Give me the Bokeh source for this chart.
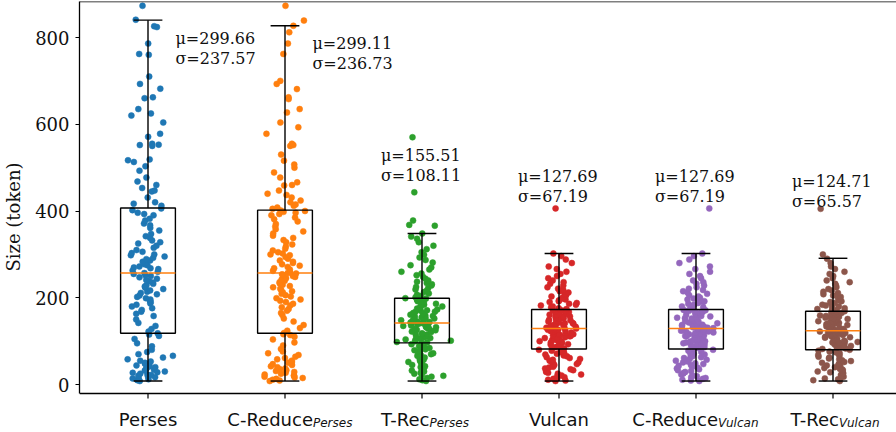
from bokeh.plotting import figure
from bokeh.models import ColumnDataSource, Range1d, FixedTicker, Span
from bokeh.transform import jitter
from bokeh.core.properties import value
from bokeh.embed import file_html
from bokeh.resources import INLINE

# ---------------- data ----------------
label_main = ["Perses", "C-Reduce", "T-Rec", "Vulcan", "C-Reduce", "T-Rec"]
label_sub = ["", "Perses", "Perses", "", "Vulcan", "Vulcan"]

mu_text = ["299.66", "299.11", "155.51", "127.69", "127.69", "124.71"]
sigma_text = ["237.57", "236.73", "108.11", "67.19", "67.19", "65.57"]

q1 = [118, 118, 96, 82, 82, 80]
median = [257, 257, 142, 129, 129, 124]
q3 = [407, 402, 199, 173, 173, 169]
whisker_low = [8, 8, 8, 8, 8, 8]
whisker_high = [840, 827, 348, 302, 302, 291]

y_ticks = [0, 200, 400, 600, 800]

perses = [
    8, 10, 12, 14, 15, 17, 18, 20, 22, 23, 25, 27, 28, 30, 32, 34, 36, 38, 40, 42,
    44, 46, 48, 50, 53, 55, 58, 62, 66, 70, 75, 80, 88, 95, 105, 112, 115,
    118, 122, 128, 135, 142, 150, 158, 163, 168, 172, 176, 180, 184, 187, 190, 193,
    196, 199, 202, 205, 208, 211, 214, 217, 220, 223, 226, 229, 232, 235, 238, 241,
    244, 247, 250, 252, 255, 257,
    260, 263, 266, 268, 270, 272, 275, 277, 280, 283, 286, 289, 292, 295, 298, 300,
    303, 306, 310, 315, 320, 325, 328, 332, 338, 342, 347, 355, 361, 367, 371, 378,
    382, 390, 393, 396, 402, 406,
    412, 417, 420, 431, 445, 447, 453, 460, 468, 477, 493, 503, 513, 517, 519, 550,
    552, 553, 555, 571, 578, 604, 620, 625, 635, 660, 662, 682, 693, 710, 760, 762,
    786, 824, 826, 841, 873,
]

creduce_perses = [
    8, 9, 11, 13, 15, 16, 18, 20, 21, 23, 25, 27, 29, 31, 33, 35, 37, 40, 42, 45,
    47, 50, 52, 55, 58, 61, 64, 68, 72, 76, 82, 90, 97, 104, 110, 114, 116,
    119, 124, 130, 137, 145, 152, 160, 165, 170, 174, 178, 182, 186, 190, 193, 196,
    199, 203, 206, 209, 212, 215, 218, 221, 224, 227, 230, 233, 236, 239, 242, 245,
    248, 250, 252, 254, 256, 257,
    259, 262, 265, 268, 271, 274, 277, 280, 283, 286, 290, 294, 298, 300, 302, 305,
    309, 313, 318, 323, 328, 333, 338, 343, 348, 353, 358, 364, 370, 376, 381, 385,
    390, 393, 396, 398, 400, 401,
    405, 408, 412, 415, 420, 424, 431, 437, 440, 447, 459, 460, 466, 477, 489, 500,
    507, 516, 530, 550, 552, 555, 578, 593, 604, 627, 635, 658, 662, 681, 693, 700,
    762, 786, 812, 827, 839, 873,
]

trec_perses = [
    8, 10, 12, 15, 18, 20, 22, 25, 27, 30, 32, 35, 37, 40, 42, 45, 48, 50, 52, 55,
    57, 60, 62, 64, 66, 68, 70, 72, 75, 77, 79, 81, 84, 86, 88, 91, 93,
    96, 97, 98, 100, 101, 103, 104, 106, 107, 109, 110, 112, 113, 115, 116, 118, 119,
    121, 122, 124, 125, 126, 128, 129, 130, 131, 132, 133, 134, 135, 136, 137, 138,
    139, 140, 141, 141, 142,
    143, 144, 145, 146, 148, 149, 150, 152, 153, 155, 156, 158, 159, 161, 162, 164,
    165, 167, 168, 170, 171, 173, 175, 176, 178, 180, 182, 184, 186, 188, 190, 192,
    194, 195, 196, 197, 198, 199,
    201, 204, 207, 210, 213, 216, 219, 222, 225, 228, 231, 234, 237, 240, 244, 248,
    252, 256, 260, 265, 270, 275, 281, 287, 293, 299, 305, 312, 320, 328, 336, 341,
    348, 366, 368, 378, 443, 570,
]

vulcan = [
    8, 9, 11, 13, 15, 17, 19, 21, 23, 25, 27, 29, 31, 33, 35, 37, 39, 41, 43, 45,
    47, 49, 51, 53, 55, 57, 59, 61, 63, 65, 67, 69, 71, 73, 75, 78, 80,
    83, 84, 86, 87, 89, 90, 92, 93, 95, 96, 97, 99, 100, 101, 103, 104, 105, 107,
    108, 109, 111, 112, 113, 114, 116, 117, 118, 119, 120, 121, 122, 123, 124, 125,
    126, 126, 127, 128,
    129, 130, 131, 132, 133, 134, 135, 136, 137, 138, 139, 140, 141, 142, 143, 145,
    146, 147, 148, 149, 151, 152, 153, 154, 156, 157, 158, 160, 161, 163, 164, 165,
    167, 168, 169, 170, 171, 172,
    174, 176, 178, 180, 182, 184, 186, 188, 190, 192, 194, 196, 198, 200, 203, 206,
    209, 212, 215, 218, 221, 224, 228, 232, 236, 240, 245, 250, 255, 260, 266, 272,
    280, 288, 296, 302, 406,
]

# C-Reduce on Vulcan has the very same statistics (mu=127.69, sigma=67.19)
creduce_vulcan = list(vulcan)

trec_vulcan = [
    8, 10, 12, 14, 16, 18, 20, 22, 24, 26, 28, 30, 32, 34, 36, 38, 40, 42, 44, 46,
    48, 50, 52, 54, 56, 58, 60, 62, 64, 66, 68, 70, 72, 74, 76, 78, 80,
    82, 83, 85, 86, 88, 89, 90, 92, 93, 94, 96, 97, 98, 99, 101, 102, 103, 104, 105,
    107, 108, 109, 110, 111, 112, 113, 114, 115, 116, 117, 118, 119, 120, 121, 122,
    123, 123, 124,
    125, 126, 127, 128, 129, 130, 131, 132, 133, 134, 135, 137, 138, 139, 140, 141,
    142, 144, 145, 146, 147, 148, 150, 151, 152, 154, 155, 156, 158, 159, 161, 162,
    164, 165, 166, 168, 169, 170,
    172, 174, 176, 178, 180, 182, 184, 186, 188, 190, 192, 194, 196, 198, 200, 202,
    205, 208, 211, 214, 217, 220, 224, 228, 232, 236, 240, 245, 250, 255, 260, 266,
    272, 280, 290, 300, 405,
]

series = [perses, creduce_perses, trec_perses, vulcan, creduce_vulcan, trec_vulcan]

# ---------------- styling / layout ----------------
colors = ["#1f77b4", "#ff7f0e", "#2ca02c", "#d62728", "#9467bd", "#8c564b"]
positions = [1, 2, 3, 4, 5, 6]
box_half = 0.2
cap_half = 0.105
annot_dx = [0.2, 0.2, -0.3, -0.3, -0.3, -0.3]
annot_y = [797, 786, 528, 480, 480, 468]
label_dx = [0, 28, 7.5, 0, 22, 6]

W, H = 896, 432
LEFT = 79
PX_PER_UNIT = 0.43375
Y_TOP = 883                 # value at the top spine
Y_BOTTOM = -20.7            # value at the bottom spine
Y_START = Y_TOP - (H - 1) / PX_PER_UNIT
TICK_LEN = 5 / PX_PER_UNIT
X_END = 0.5 + (W - LEFT) / 137.0

SERIF = "DejaVu Serif"
SANS = "DejaVu Sans"
INK = "#111111"

p = figure(width=W, height=H, x_range=Range1d(0.5, X_END), y_range=Range1d(Y_START, Y_TOP),
           output_backend="svg", toolbar_location=None, x_axis_location=None,
           min_border_left=LEFT, min_border_right=0, min_border_top=1, min_border_bottom=0)
p.outline_line_color = None
p.xgrid.grid_line_color = None
p.ygrid.grid_line_color = None
p.background_fill_color = "white"
p.border_fill_color = "white"

# jittered points
pts_x, pts_y, pts_c = [], [], []
for pos, vals, col in zip(positions, series, colors):
    for v in vals:
        pts_x.append(pos)
        pts_y.append(v)
        pts_c.append(col)
pts = ColumnDataSource(dict(x=pts_x, y=pts_y, c=pts_c))
p.scatter(x=jitter("x", width=0.062, distribution="normal"), y="y", source=pts,
          size=6, fill_color="c", line_color="c", line_width=0.5)

# box plot
box = ColumnDataSource(dict(
    x=positions,
    left=[x - box_half for x in positions], right=[x + box_half for x in positions],
    cl=[x - cap_half for x in positions], cr=[x + cap_half for x in positions],
    q1=q1, q3=q3, med=median, lo=whisker_low, hi=whisker_high,
))
p.segment(x0="x", y0="q3", x1="x", y1="hi", source=box, line_color="black", line_width=1.4)
p.segment(x0="x", y0="q1", x1="x", y1="lo", source=box, line_color="black", line_width=1.4)
p.segment(x0="cl", y0="hi", x1="cr", y1="hi", source=box, line_color="black", line_width=1.4)
p.segment(x0="cl", y0="lo", x1="cr", y1="lo", source=box, line_color="black", line_width=1.4)
p.quad(left="left", right="right", bottom="q1", top="q3", source=box,
       fill_color=None, line_color="black", line_width=1.4)
p.segment(x0="left", y0="med", x1="right", y1="med", source=box,
          line_color="#ff7f0e", line_width=1.5)

# mean / std annotations
ann = ColumnDataSource(dict(
    x=[pos + dx for pos, dx in zip(positions, annot_dx)],
    y=annot_y,
    mu=["\u03bc=" + m for m in mu_text],
    sd=["\u03c3=" + s for s in sigma_text],
))
p.text(x="x", y="y", text="mu", source=ann, text_font=value(SERIF), text_font_size="16px",
       text_baseline="middle", text_align="left", text_color=INK)
p.text(x="x", y="y", text="sd", source=ann, text_font=value(SERIF), text_font_size="16px",
       text_baseline="middle", text_align="left", text_color=INK, y_offset=20)

# spines
p.add_layout(Span(location=Y_TOP, dimension="width", line_color="black", line_width=1.3))
p.add_layout(Span(location=Y_BOTTOM, dimension="width", line_color="black", line_width=1.3))

# x ticks (drawn below the bottom spine)
p.segment(x0=positions, y0=[Y_BOTTOM] * 6, x1=positions, y1=[Y_BOTTOM - TICK_LEN] * 6,
          line_color="black", line_width=1.2)

# category labels with italic subscripts
plain = ColumnDataSource(dict(
    x=[pos for pos, s in zip(positions, label_sub) if not s],
    y=[Y_BOTTOM] * sum(1 for s in label_sub if not s),
    t=[m for m, s in zip(label_main, label_sub) if not s],
))
withsub = ColumnDataSource(dict(
    x=[pos for pos, s in zip(positions, label_sub) if s],
    y=[Y_BOTTOM] * sum(1 for s in label_sub if s),
    t=[m for m, s in zip(label_main, label_sub) if s],
    sub=[s for s in label_sub if s],
    dx=[d for d, s in zip(label_dx, label_sub) if s],
))
p.text(x="x", y="y", text="t", source=plain, text_font=value(SANS), text_font_size="18px",
       text_align="center", text_baseline="alphabetic", y_offset=26, text_color=INK)
p.text(x="x", y="y", text="t", source=withsub, text_font=value(SANS), text_font_size="18px",
       text_align="right", text_baseline="alphabetic", x_offset="dx", y_offset=26,
       text_color=INK)
p.text(x="x", y="y", text="sub", source=withsub, text_font=value(SANS),
       text_font_size="12px", text_font_style="italic", text_align="left",
       text_baseline="alphabetic", x_offset="dx", y_offset=30, text_color=INK)

# y axis
p.yaxis.ticker = FixedTicker(ticks=y_ticks)
p.yaxis.bounds = (Y_BOTTOM, Y_TOP)
p.yaxis.minor_tick_line_color = None
p.yaxis.major_tick_in = 0
p.yaxis.major_tick_out = 4
p.yaxis.major_label_standoff = 6
p.yaxis.major_label_text_font = SERIF
p.yaxis.major_label_text_font_size = "18px"
p.yaxis.major_label_text_color = INK
p.yaxis.axis_label = "Size (token)"
p.yaxis.axis_label_text_font = SERIF
p.yaxis.axis_label_text_font_style = "normal"
p.yaxis.axis_label_text_font_size = "18px"
p.yaxis.axis_label_text_color = INK
p.yaxis.axis_label_standoff = 8
p.yaxis.axis_line_width = 1.3
p.yaxis.major_tick_line_width = 1.2

open("out.html", "w").write(file_html(p, INLINE))
